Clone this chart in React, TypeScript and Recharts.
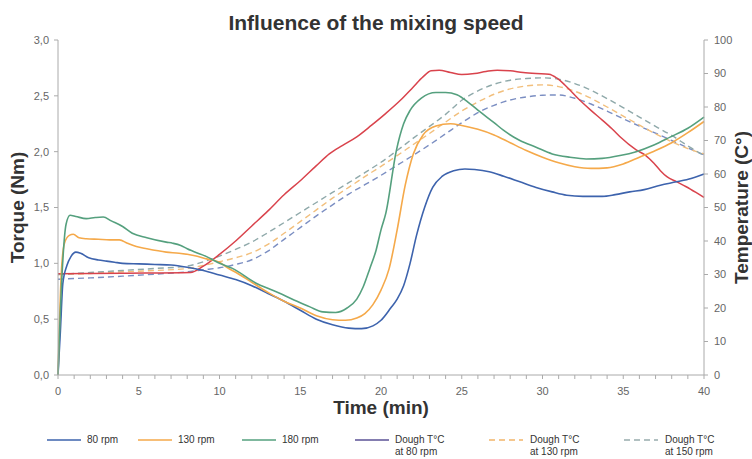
import React from 'react';
import { LineChart, Line, XAxis, YAxis, Label } from 'recharts';

// [time (min), torque (Nm)]
const torque80 = [
  [0, 0], [0.15, 0.4], [0.3, 0.82], [0.55, 0.98], [0.8, 1.06], [1.1, 1.1], [1.4, 1.09], [1.9, 1.05],
  [2.5, 1.03], [3, 1.02], [3.5, 1.01], [4, 1.0], [5, 0.995], [6, 0.99], [7, 0.985], [8, 0.965],
  [9, 0.935], [10, 0.895], [11, 0.855], [12, 0.8], [13, 0.73], [14, 0.66], [15, 0.58], [16, 0.5],
  [17, 0.45], [18, 0.42], [18.8, 0.415], [19.5, 0.44], [20, 0.49], [20.6, 0.6], [21, 0.68], [21.4, 0.8],
  [21.8, 1.0], [22.2, 1.25], [22.7, 1.5], [23.2, 1.68], [23.8, 1.78], [24.5, 1.83], [25.2, 1.845],
  [25.8, 1.84], [26.7, 1.82], [27.6, 1.78], [28.6, 1.73], [29.6, 1.68], [30.6, 1.64], [31.5, 1.61],
  [32.5, 1.6], [33.7, 1.6], [34.5, 1.615], [35.4, 1.64], [36.3, 1.66], [37.3, 1.7], [38.3, 1.73],
  [39.2, 1.76], [40, 1.8],
];

const torque130 = [
  [0, 0], [0.2, 0.9], [0.4, 1.18], [0.7, 1.25], [0.95, 1.26], [1.3, 1.23], [1.75, 1.22], [2.5, 1.215],
  [3.2, 1.21], [3.8, 1.21], [4.3, 1.18], [4.85, 1.15], [5.5, 1.13], [6.7, 1.1], [7.5, 1.09], [8.4, 1.07],
  [9.2, 1.04], [10, 1.01], [10.5, 0.96], [11, 0.92], [12, 0.83], [13, 0.74], [14, 0.66], [15, 0.6],
  [16, 0.53], [17, 0.495], [17.8, 0.49], [18.5, 0.51], [19, 0.55], [19.5, 0.63], [20, 0.76], [20.5, 0.95],
  [21, 1.3], [21.5, 1.7], [22, 1.98], [22.6, 2.15], [23.4, 2.23], [24.3, 2.25], [25, 2.235], [26, 2.2],
  [27, 2.15], [28, 2.08], [29, 2.01], [30, 1.95], [31, 1.9], [32, 1.865], [33, 1.85], [34, 1.855],
  [35, 1.89], [36, 1.95], [37, 2.01], [38, 2.08], [39, 2.17], [40, 2.27],
];

const torque180 = [
  [0, 0], [0.25, 0.9], [0.5, 1.35], [0.75, 1.43], [1.1, 1.42], [1.75, 1.4], [2.3, 1.41], [2.8, 1.415],
  [3.3, 1.38], [4, 1.33], [4.6, 1.27], [5.5, 1.23], [6.7, 1.19], [7.1, 1.18], [7.6, 1.16], [8, 1.13],
  [9.2, 1.06], [10, 1.0], [10.8, 0.955], [12.3, 0.82], [13.1, 0.77], [13.9, 0.72], [14.8, 0.66],
  [15.6, 0.61], [16.4, 0.565], [17.2, 0.56], [17.9, 0.6], [18.5, 0.68], [18.9, 0.79], [19.3, 0.95],
  [19.7, 1.12], [20, 1.3], [20.3, 1.45], [20.95, 2.01], [21.4, 2.25], [21.8, 2.37], [22.5, 2.48],
  [23.4, 2.53], [24, 2.53], [24.7, 2.51], [25.5, 2.43], [26.1, 2.36], [27, 2.26], [27.6, 2.19],
  [28.6, 2.1], [29.6, 2.04], [30.6, 1.98], [31.7, 1.95], [32.7, 1.935], [33.7, 1.94], [34.8, 1.965],
  [35.8, 2.0], [36.9, 2.06], [37.9, 2.13], [39, 2.21], [40, 2.31],
];

// [time (min), dough temperature (°C)]
const tempSolid = [
  [0, 30.2], [4, 30.4], [8.2, 30.6], [9, 32.5], [10, 36], [11, 40], [12, 44.5], [13, 49], [14, 53.8],
  [15, 58], [16, 62.5], [16.8, 66], [17.6, 68.5], [18.5, 71.1], [19.4, 74.5], [20.3, 78.1], [21.2, 82],
  [22, 86], [22.6, 89], [23.1, 90.8], [23.6, 91], [24.3, 90.3], [25, 89.7], [25.8, 90], [26.5, 90.6],
  [27.2, 91], [28, 90.8], [28.8, 90.3], [29.6, 90], [30.4, 89.8], [30.9, 88.6], [31.4, 86.5],
  [32.3, 82.1], [33, 79], [33.7, 76.1], [34.3, 73.5], [34.8, 71.1], [35.8, 67.2], [36.4, 65.5],
  [36.9, 63.2], [37.3, 61], [37.7, 59.2], [38.3, 57.7], [38.9, 56.2], [39.5, 54.5], [40, 53],
];

const temp150 = [
  [0, 30], [2, 30.6], [4, 31.2], [6, 31.8], [8, 32.5], [9, 33.8], [10, 35.5], [11, 37.5], [12, 39.7],
  [13, 42.5], [14, 45.5], [15, 48.5], [16, 51.5], [17, 54.5], [18, 57.4], [19, 60.4], [20, 63.5],
  [21, 67], [22, 70.7], [23, 74.2], [24, 77.8], [25, 82], [26, 84.8], [27, 86.8], [28, 88], [29, 88.5],
  [30, 88.7], [31, 88.3], [32, 87], [33, 85], [34, 82.5], [35, 79.8], [36, 77], [37, 74.2], [38, 71.5],
  [39, 68.4], [40, 65.5],
];

const temp130 = [
  [0, 30], [2, 30.3], [4, 30.8], [6, 31.2], [8, 31.8], [9, 32.7], [10, 33.8], [11, 35], [12, 36.5],
  [13, 39], [14, 42.3], [15, 45.8], [16, 49.3], [17, 52.8], [18, 56], [19, 59.2], [20, 62.3], [21, 65.5],
  [22, 68.8], [23, 72.1], [24, 75.5], [25, 78.8], [26, 81.5], [27, 83.8], [28, 85.4], [29, 86.3],
  [30, 86.6], [31, 86.1], [32, 84.7], [33, 82.6], [34, 80], [35, 77.3], [36, 74.6], [37, 72], [38, 69.6],
  [39, 67.6], [40, 66],
];

const temp80 = [
  [0, 28.6], [2, 29], [4, 29.5], [6, 30.1], [8, 30.8], [9, 31.4], [10, 32], [11, 33], [12, 34.4],
  [13, 37], [14, 40.5], [15, 44], [16, 47.5], [17, 50.8], [18, 54], [19, 56.8], [20, 59.6], [21, 62.6],
  [22, 65.6], [23, 68.7], [24, 72], [25, 75.3], [26, 78.3], [27, 80.5], [28, 82.1], [29, 83], [30, 83.5],
  [31, 83.6], [32, 82.6], [33, 80.9], [34, 78.8], [35, 76.5], [36, 74.3], [37, 72.2], [38, 70],
  [39, 67.8], [40, 65.7],
];

const timeTicks = Array.from({ length: 41 }, (_, i) => i);
const torqueTicks = [0, 0.5, 1, 1.5, 2, 2.5, 3];
const tempTicks = [0, 10, 20, 30, 40, 50, 60, 70, 80, 90, 100];

const legendNames = [
  ['80 rpm'],
  ['130 rpm'],
  ['180 rpm'],
  ['Dough T°C', 'at 80 rpm'],
  ['Dough T°C', 'at 130 rpm'],
  ['Dough T°C', 'at 150 rpm'],
];

const FONT = '"Liberation Sans", Arial, Helvetica, sans-serif';
const toPts = (arr: number[][]) => arr.map(([t, v]) => ({ t, v }));

const legendStyle = [
  { left: 47, color: '#3d63ad', dash: false },
  { left: 138, color: '#f5a94a', dash: false },
  { left: 242, color: '#55a07e', dash: false },
  { left: 355, color: '#5b5296', dash: false },
  { left: 489, color: '#f2b56a', dash: true },
  { left: 624, color: '#98acad', dash: true },
];

function AxisTitle(props: any) {
  const { viewBox, value, side } = props;
  const cx = side === 'left' ? viewBox.x - 1 : side === 'right' ? viewBox.x + 37 : viewBox.x + viewBox.width / 2;
  const cy = side === 'bottom' ? viewBox.y + 32 : viewBox.y + viewBox.height / 2;
  return (
    <text
      x={cx}
      y={cy}
      textAnchor="middle"
      dominantBaseline="central"
      transform={side === 'bottom' ? undefined : `rotate(-90 ${cx} ${cy})`}
      fill="#333"
      fontSize={19}
      fontWeight="bold"
      fontFamily={FONT}
    >
      {value}
    </text>
  );
}

export default function App() {
  const tick = { fontSize: 11, fill: '#666', fontFamily: FONT };
  const axisLine = { stroke: '#aaa' };
  return (
    <div style={{ position: 'absolute', left: 0, top: 0, width: 752, height: 459, background: '#fff', fontFamily: FONT }}>
      <div
        style={{
          position: 'absolute', top: 12, left: 0, width: 752, textAlign: 'center',
          fontSize: 21, lineHeight: '21px', fontWeight: 'bold', color: '#333',
        }}
      >
        Influence of the mixing speed
      </div>
      <LineChart width={752} height={459} margin={{ top: 40, right: 8, left: 18, bottom: 54 }}>
        <XAxis
          dataKey="t"
          type="number"
          domain={[0, 40]}
          ticks={timeTicks}
          interval={0}
          tickFormatter={(v: number) => (v % 5 === 0 ? String(v) : '')}
          tick={tick}
          tickSize={4}
          tickMargin={8}
          axisLine={axisLine}
          tickLine={axisLine}
          height={30}
          allowDuplicatedCategory={false}
        >
          <Label value="Time (min)" content={(p: any) => <AxisTitle {...p} side="bottom" />} />
        </XAxis>
        <YAxis
          yAxisId="left"
          domain={[0, 3]}
          ticks={torqueTicks}
          tickFormatter={(v: number) => v.toFixed(1).replace('.', ',')}
          tick={tick}
          tickSize={4}
          tickMargin={5}
          axisLine={axisLine}
          tickLine={axisLine}
          width={40}
        >
          <Label value="Torque (Nm)" content={(p: any) => <AxisTitle {...p} side="left" />} />
        </YAxis>
        <YAxis
          yAxisId="right"
          orientation="right"
          domain={[0, 100]}
          ticks={tempTicks}
          tick={tick}
          tickSize={4}
          tickMargin={6}
          axisLine={axisLine}
          tickLine={axisLine}
          width={40}
        >
          <Label value="Temperature (C°)" content={(p: any) => <AxisTitle {...p} side="right" />} />
        </YAxis>

        <Line yAxisId="right" data={toPts(temp80)} dataKey="v" type="monotone" stroke="#7b8ec2" strokeWidth={1.4} strokeDasharray="6 4" dot={false} isAnimationActive={false} />
        <Line yAxisId="right" data={toPts(temp130)} dataKey="v" type="monotone" stroke="#f2bf7c" strokeWidth={1.4} strokeDasharray="6 4" dot={false} isAnimationActive={false} />
        <Line yAxisId="right" data={toPts(temp150)} dataKey="v" type="monotone" stroke="#8fa9aa" strokeWidth={1.4} strokeDasharray="6 4" dot={false} isAnimationActive={false} />
        <Line yAxisId="right" data={toPts(tempSolid)} dataKey="v" type="monotone" stroke="#d9434c" strokeWidth={1.5} dot={false} isAnimationActive={false} />
        <Line yAxisId="left" data={toPts(torque80)} dataKey="v" type="monotone" stroke="#3d63ad" strokeWidth={1.6} dot={false} isAnimationActive={false} />
        <Line yAxisId="left" data={toPts(torque130)} dataKey="v" type="monotone" stroke="#f5a94a" strokeWidth={1.6} dot={false} isAnimationActive={false} />
        <Line yAxisId="left" data={toPts(torque180)} dataKey="v" type="monotone" stroke="#55a07e" strokeWidth={1.6} dot={false} isAnimationActive={false} />
      </LineChart>

      {legendNames.map((lines, i) => {
        const s = legendStyle[i];
        return (
          <div key={i} style={{ position: 'absolute', left: s.left, top: 434, display: 'flex', alignItems: 'flex-start' }}>
            <svg width={36} height={12} style={{ display: 'block' }}>
              <line x1={0} y1={6} x2={34} y2={6} stroke={s.color} strokeWidth={1.6} strokeDasharray={s.dash ? '6 4' : undefined} />
            </svg>
            <div style={{ fontSize: 10, lineHeight: '11.5px', color: '#333', marginLeft: s.dash ? 5 : 4 }}>
              {lines.map((l, j) => (
                <div key={j}>{l}</div>
              ))}
            </div>
          </div>
        );
      })}
    </div>
  );
}
